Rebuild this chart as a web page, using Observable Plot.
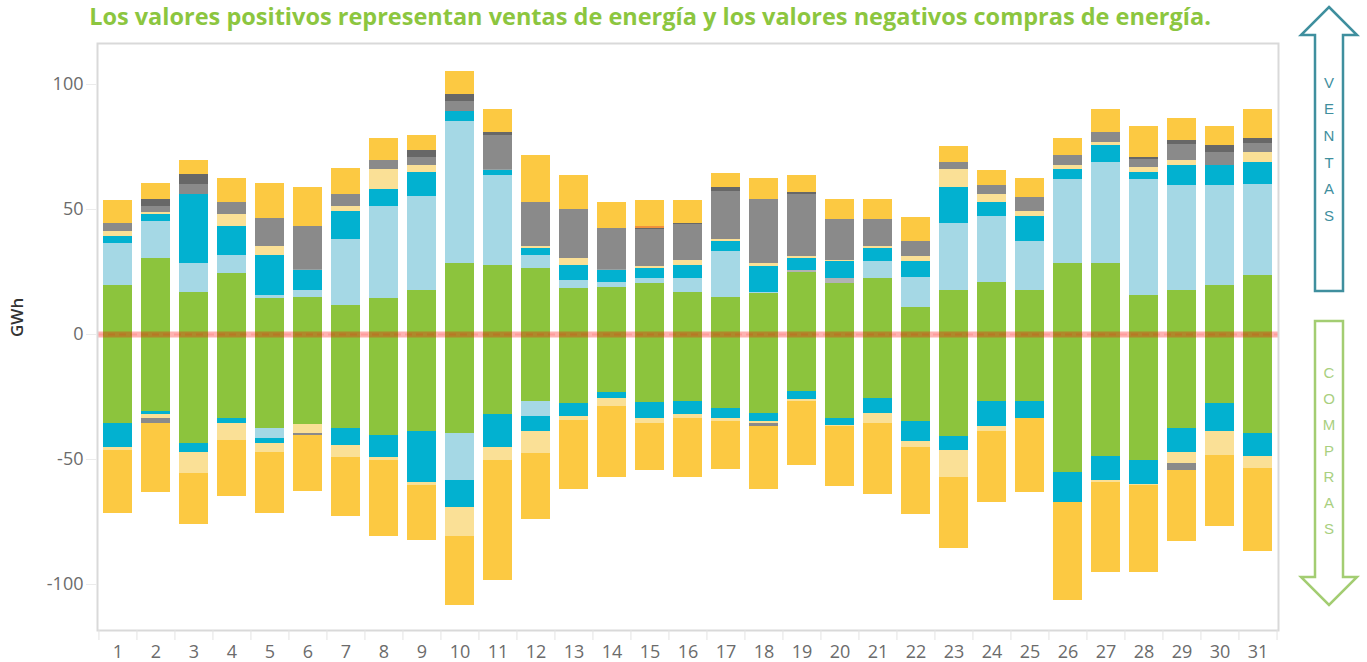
<!DOCTYPE html>
<html>
<head>
<meta charset="utf-8">
<script src="https://cdn.jsdelivr.net/npm/d3@7"></script>
<script src="https://cdn.jsdelivr.net/npm/@observablehq/plot@0.6"></script>
<style>
  html, body { margin: 0; padding: 0; background: #fff; }
  #wrap { position: relative; width: 1367px; height: 662px; overflow: hidden; }
  #title { position: absolute; left: 0; top: 0; width: 1300px; text-align: center;
           font-family: "Open Sans", sans-serif; font-weight: 700; font-size: 23.5px; line-height: 33px;
           color: #8cc63f; white-space: nowrap; }
  #chart { position: absolute; left: 0; top: 0; }
  #arrows { position: absolute; left: 0; top: 0; }
</style>
</head>
<body>
<div id="wrap">
  <div id="chart"></div>
  <div id="title">Los valores positivos representan ventas de energía y los valores negativos compras de energía.</div>
  <svg id="arrows" width="1367" height="662">
    <path d="M1329,7 L1357,35 L1343,35 L1343,291 L1315,291 L1315,35 L1301,35 Z" fill="#fff" stroke="#3f8f9e" stroke-width="2.5" stroke-linejoin="miter"/>
    <g font-family="Liberation Sans, Arial, sans-serif" font-size="15" fill="#3f8f9e" text-anchor="middle" dominant-baseline="central">
      <text x="1329" y="82">V</text><text x="1329" y="108">E</text><text x="1329" y="135">N</text>
      <text x="1329" y="162">T</text><text x="1329" y="188">A</text><text x="1329" y="215">S</text>
    </g>
    <path d="M1315,321 L1343,321 L1343,577 L1357,577 L1329,605 L1301,577 L1315,577 Z" fill="#fff" stroke="#a3cd72" stroke-width="2.5" stroke-linejoin="miter"/>
    <g font-family="Liberation Sans, Arial, sans-serif" font-size="15" fill="#a9d07f" text-anchor="middle" dominant-baseline="central">
      <text x="1329" y="372">C</text><text x="1329" y="398">O</text><text x="1329" y="424">M</text>
      <text x="1329" y="450">P</text><text x="1329" y="476">R</text><text x="1329" y="502">A</text>
      <text x="1329" y="528">S</text>
    </g>
  </svg>
</div>
<script>
// ---- Categories ----
const days = [1,2,3,4,5,6,7,8,9,10,11,12,13,14,15,16,17,18,19,20,21,22,23,24,25,26,27,28,29,30,31];
const yTicks = [-100, -50, 0, 50, 100];

// ---- Series names & colours (stack order from zero outward) ----
const seriesNames = ["Serie 1", "Serie 2", "Serie 3", "Serie 4", "Serie 5", "Serie 6", "Serie 7", "Serie 8", "Serie 9"];
const seriesColors = ["#8cc43d", "#b1b3b4", "#a5d8e5", "#02b1d0", "#fae096", "#8a8a8a", "#676767", "#f0913c", "#fcc942"];

// ---- Ventas (positive, GWh) ----
const ventas1 = [19.6,30.4,16.8,24.4,14.4,14.8,11.6,14.4,17.6,28.4,27.6,26.4,18.4,18.8,20.4,16.8,14.8,16.4,24.8,20.4,22.4,10.8,17.6,20.8,17.6,28.4,28.4,15.6,17.6,19.6,23.6];
const ventas2 = [0,0,0,0,0,0,0,0,0,0,0,0,0,0,0,0,0,0,0.8,2,0,0,0,0,0,0,0,0,0,0,0];
const ventas3 = [16.8,14.8,11.6,7.2,1.2,2.8,26.4,36.8,37.6,56.8,36,5.2,3.2,2,2,5.6,18.4,0.4,0,0,6.8,12,26.8,26.4,19.6,33.6,40.4,46.4,42,40,36.4];
const ventas4 = [2.8,2.8,27.6,11.6,16,8.1,11.2,6.8,9.6,4,2.1,2.8,6,4.9,4,5.2,4,10.4,4.8,6.8,5.2,6.4,14.4,5.6,10,4,6.8,2.8,8,8,8.8];
const ventas5 = [2,0.8,0,4.8,3.6,0,2,8,2.8,0,0,0.8,2.8,0,0.8,2,0.8,1.2,0.8,0.4,0.8,2,7.2,3.2,2,1.6,1.2,2,2,0,4];
const ventas6 = [3.2,2.4,4,4.8,11.2,17.5,4.8,3.6,3.2,4,13.9,17.6,19.6,16.7,14.8,14.4,19.2,25.6,24.8,16.4,10.8,6,2.8,3.6,5.6,4,4,3.2,6.4,5.2,3.6];
const ventas7 = [0,2.8,4,0,0,0,0,0,2.8,2.8,1.2,0,0,0,0.4,0.4,1.6,0,0.8,0,0,0,0,0,0,0,0,0.8,1.6,2.8,2];
const ventas8 = [0,0,0,0,0,0,0,0,0,0,0,0,0,0,0.8,0,0,0,0,0,0,0,0,0,0,0,0,0,0,0,0];
const ventas9 = [9.2,6.4,5.6,9.6,14,15.6,10.4,8.8,6,9.2,9.2,18.8,13.6,10.4,10.4,9.2,5.6,8.4,6.8,8,8,9.6,6.4,6,7.6,6.8,9.2,12.4,8.8,7.6,11.6];

// ---- Compras (negative, GWh) ----
const compras1 = [-35.6,-30.8,-43.6,-33.6,-37.6,-36,-37.6,-40.4,-38.8,-39.6,-32,-26.8,-27.6,-23.2,-27.2,-26.8,-29.6,-31.6,-22.8,-33.6,-25.6,-34.8,-40.8,-26.8,-26.8,-55.2,-48.8,-50.4,-37.6,-27.6,-39.6];
const compras2 = [0,0,0,0,0,0,0,0,0,0,0,0,0,0,0,0,0,0,0,0,0,0,0,0,0,0,0,0,0,0,0];
const compras3 = [0,0,0,0,-4,0,0,0,0,-18.8,0,-6,0,0,0,0,0,0,0,0,0,0,0,0,0,0,0,0,0,0,0];
const compras4 = [-9.6,-1.2,-3.6,-2,-2,0,-6.8,-8.8,-20.4,-10.8,-13.2,-6,-5.2,-2.4,-6.4,-5.2,-4,-3.2,-3.2,-2.8,-6,-8,-5.6,-10,-6.8,-12,-9.6,-9.6,-9.6,-11.2,-9.2];
const compras5 = [-1.2,-1.6,-8.4,-6.8,-3.6,-3.6,-4.8,-1.2,-1.2,-11.6,-5.2,-8.8,-1.6,-3.2,-2,-1.6,-1.2,-0.8,-0.8,-0.4,-4,-2.4,-10.8,-2,0,0,-0.8,-0.4,-4.4,-9.6,-4.8];
const compras6 = [0,-2,0,0,0,-0.8,0,0,0,0,0,0,0,0,0,0,0,-1.2,0,0,0,0,0,0,0,0,0,0,-2.8,0,0];
const compras7 = [0,0,0,0,0,0,0,0,0,0,0,0,0,0,0,0,0,0,0,0,0,0,0,0,0,0,0,0,0,0,0];
const compras8 = [0,0,0,0,0,0,0,0,0,0,0,0,0,0,0,0,0,0,0,0,0,0,0,0,0,0,0,0,0,0,0];
const compras9 = [-25.2,-27.6,-20.4,-22.4,-24.4,-22.4,-23.6,-30.4,-22,-27.6,-48,-26.4,-27.6,-28.4,-18.8,-23.6,-19.2,-25.2,-25.6,-24,-28.4,-26.8,-28.4,-28.4,-29.6,-39.2,-36,-34.8,-28.4,-28.4,-33.2];

const ventas = [ventas1, ventas2, ventas3, ventas4, ventas5, ventas6, ventas7, ventas8, ventas9];
const compras = [compras1, compras2, compras3, compras4, compras5, compras6, compras7, compras8, compras9];

// ---- Long table built from the arrays ----
const rows = [];
seriesNames.forEach((name, s) => {
  days.forEach((day, i) => {
    if (ventas[s][i]) rows.push({day, serie: name, value: ventas[s][i]});
    if (compras[s][i]) rows.push({day, serie: name, value: compras[s][i]});
  });
});

const step = (1278 - 97) / days.length;

const chart = Plot.plot({
  width: 1290,
  height: 662,
  marginTop: 43,
  marginBottom: 32,
  marginLeft: 97,
  marginRight: 12,
  style: {fontFamily: "'Open Sans', sans-serif", fontSize: "18px", background: "transparent", overflow: "visible"},
  x: {domain: days, paddingInner: 0.24, paddingOuter: 0.12},
  y: {domain: [-118.4, 116.4]},
  color: {domain: seriesNames, range: seriesColors},
  marks: [
    Plot.barY(rows, {x: "day", y: "value", fill: "serie", order: seriesNames}),
    Plot.ruleY([0], {stroke: "#ff0000", strokeOpacity: 0.3, strokeWidth: 6}),
    Plot.ruleY([0], {stroke: "#ff0000", strokeOpacity: 0.12, strokeWidth: 2, strokeDasharray: "7,4"}),
    Plot.frame({stroke: "#d9d9d9", strokeWidth: 2}),
    Plot.axisY({ticks: yTicks, tickSize: 11, tickPadding: 3, stroke: "#ebebeb", fill: "#6b6b6b",
                tickFormat: d => String(d), label: null}),
    Plot.axisX({tickSize: 0, tickPadding: 15, fill: "#6b6b6b", label: null}),
    Plot.axisX({tickSize: 10, tickPadding: 0, tickFormat: () => "", dx: -step / 2, stroke: "#e3e3e3", label: null}),
    Plot.axisX({ticks: [days[days.length - 1]], tickSize: 10, tickPadding: 0, tickFormat: () => "", dx: step / 2, stroke: "#e3e3e3", label: null}),
    Plot.text(["GWh"], {frameAnchor: "left", dx: -80, rotate: -90, fontSize: 17, fontWeight: 600, fill: "#333", text: d => d})
  ]
});
document.getElementById("chart").appendChild(chart);
</script>
</body>
</html>
